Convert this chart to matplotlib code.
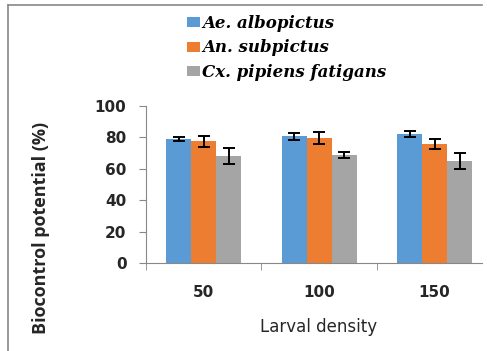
import matplotlib
matplotlib.use("Agg")
import matplotlib.pyplot as plt
import numpy as np
from matplotlib.lines import Line2D
from matplotlib.patches import Patch

categories = ["50", "100", "150"]
series_names = ["Ae. albopictus", "An. subpictus", "Cx. pipiens fatigans"]
ae_vals = [79.0, 80.7, 82.0]
ae_err = [1.3, 2.2, 1.8]
an_vals = [77.5, 79.6, 75.6]
an_err = [3.5, 3.6, 3.2]
cx_vals = [68.0, 69.0, 65.0]
cx_err = [5.0, 1.9, 5.3]
colors = ["#5B9BD5", "#ED7D31", "#A5A5A5"]

fig = plt.figure(figsize=(4.87, 3.51), dpi=100)
W, H = 487, 351
ax = fig.add_axes([146 / W, 1 - 263 / H, (482 - 146) / W, (263 - 106) / H])

x = np.arange(len(categories))
bw = 0.216
for i, (vals, errs) in enumerate([(ae_vals, ae_err), (an_vals, an_err), (cx_vals, cx_err)]):
    ax.bar(x + (i - 1) * bw, vals, bw, color=colors[i], label=series_names[i], zorder=2)
    ax.errorbar(x + (i - 1) * bw, vals, yerr=errs, fmt="none", ecolor="black",
                elinewidth=1.4, capsize=4, capthick=1.4, zorder=3)

ax.set_ylim(0, 100)
ax.set_xlim(-0.5, 2.41)
ax.set_yticks([0, 20, 40, 60, 80, 100])
ax.set_xticks(x)
ax.set_xticklabels(categories)
ax.set_xticks([-0.5, 0.5, 1.5], minor=True)
ax.tick_params(axis="x", which="major", length=0, pad=16)
ax.tick_params(axis="x", which="minor", length=5, direction="out", color="#888888")
ax.tick_params(axis="y", length=5, direction="out", color="#888888", pad=9)
for lbl in ax.get_xticklabels() + ax.get_yticklabels():
    lbl.set_fontfamily("DejaVu Sans")
    lbl.set_fontweight("bold")
    lbl.set_fontsize(11)
    lbl.set_color("#262626")
for s in ["top", "right"]:
    ax.spines[s].set_visible(False)
ax.spines["left"].set_color("#888888")
ax.spines["bottom"].set_color("#888888")

fig.text(319 / W, 1 - 327 / H, "Larval density", ha="center", va="center",
         fontfamily="DejaVu Sans", fontsize=12, color="#262626")
fig.text(41 / W, 1 - 228 / H, "Biocontrol potential (%)", rotation=90, ha="center", va="center",
         fontfamily="Open Sans", fontweight="bold", fontsize=13, color="#262626")

handles = [Patch(facecolor=c, edgecolor="none") for c in colors]
leg = fig.legend(handles, series_names, loc="upper left", bbox_to_anchor=(187 / W, 1 - 15 / H),
                 frameon=False, handlelength=0.8, handleheight=0.55, handletextpad=0.1,
                 labelspacing=0.45, borderpad=0, borderaxespad=0,
                 prop={"family": "DejaVu Serif", "style": "italic", "weight": "bold", "size": 12})

fig.add_artist(Line2D([8 / W, 482 / W], [1 - 5 / H, 1 - 5 / H], color="#888888", lw=1.2))
fig.add_artist(Line2D([8 / W, 8 / W], [1 - 5 / H, 0], color="#888888", lw=1.2))

fig.savefig("out.png", dpi=100)
